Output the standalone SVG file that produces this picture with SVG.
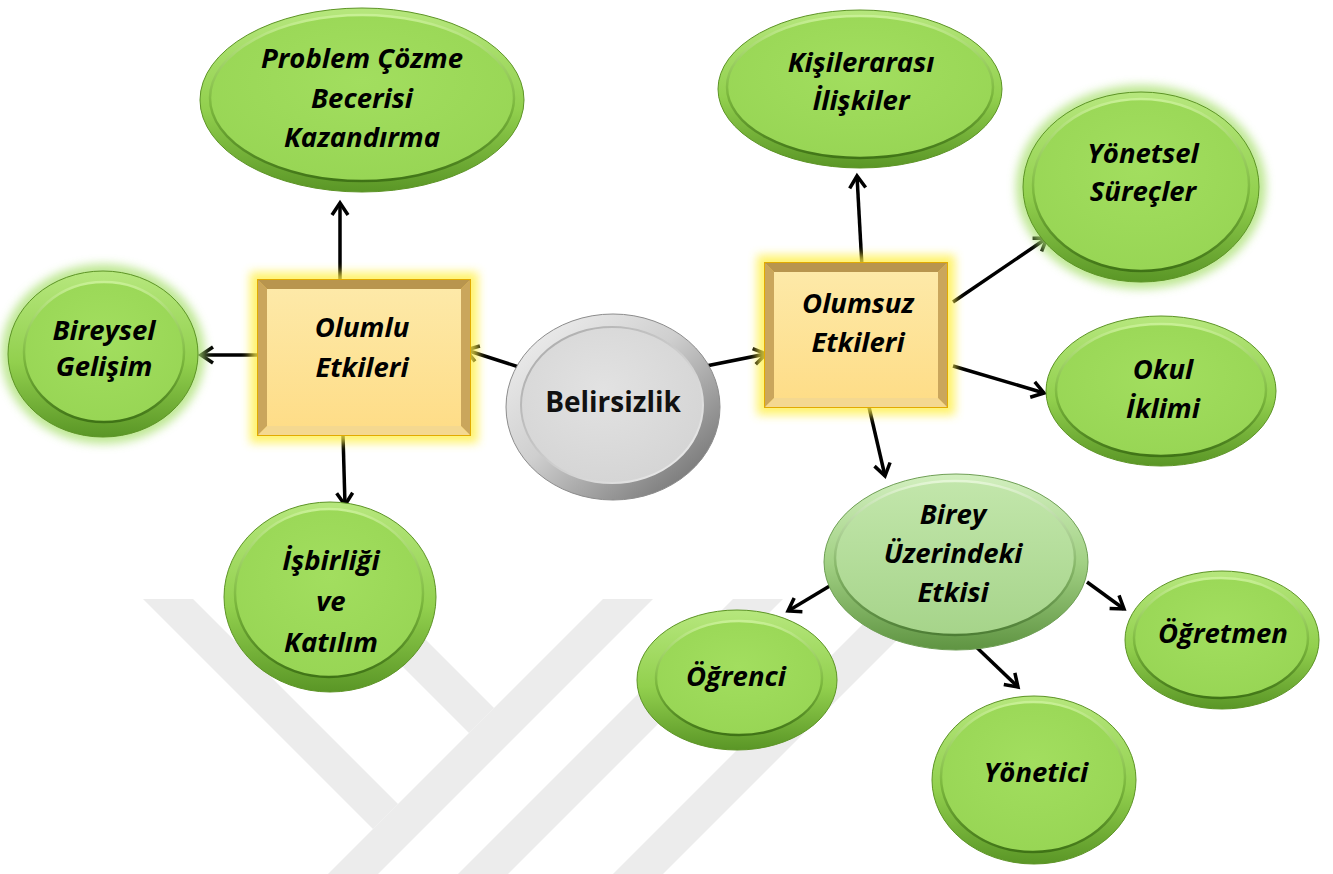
<svg xmlns="http://www.w3.org/2000/svg" width="1333" height="874" viewBox="0 0 1333 874">
<defs>
<style>
.lbl{font-family:"Open Sans","Noto Sans","Liberation Sans",sans-serif;font-weight:700;font-style:italic;font-size:27.5px;fill:#000;text-anchor:middle}
.title{font-family:"Open Sans","Noto Sans","Liberation Sans",sans-serif;font-weight:700;font-size:28px;fill:#111;text-anchor:middle}
.wm{fill:#ececec}
.link{fill:none;stroke:#000;stroke-width:3.5;marker-end:url(#arrow)}
.rim{fill:url(#greenRim);stroke:#5d9426;stroke-width:1}
.face{fill:url(#greenFace);stroke:url(#greenEdge);stroke-width:2.5}
.halo{fill:#a9e070;opacity:0.75;filter:url(#soft)}
.pale-rim{fill:url(#paleRim);stroke:#6f9f55;stroke-width:1}
.pale-face{fill:url(#paleFace);stroke:url(#paleEdge);stroke-width:2.5}
.gold-glow{fill:#fff04a;opacity:0.8;filter:url(#soft)}
.gold-frame{fill:#f0c64a;stroke:#e2aa00;stroke-width:2}
.bev-dark{fill:#b8954e}
.bev-mid{fill:#caa65c}
.bev-light{fill:#f4d890}
.gold-face{fill:url(#goldFace)}
.grey-rim{fill:url(#greyRim);stroke:#8c8c8c;stroke-width:1}
.grey-face{fill:url(#greyFace);stroke:url(#greyEdge);stroke-width:2}
</style>
<filter id="soft" x="-20%" y="-20%" width="140%" height="140%">
<feGaussianBlur stdDeviation="5"/>
</filter>
<linearGradient id="greenRim" x1="0" y1="0" x2="0" y2="1">
<stop offset="0" stop-color="#b6e77d"/>
<stop offset="0.55" stop-color="#92d04e"/>
<stop offset="1" stop-color="#5a9626"/>
</linearGradient>
<radialGradient id="greenFace" cx="0.5" cy="0.4" r="0.65">
<stop offset="0" stop-color="#a2de5f"/>
<stop offset="1" stop-color="#97d554"/>
</radialGradient>
<linearGradient id="greenEdge" x1="0" y1="0" x2="0" y2="1">
<stop offset="0" stop-color="#c8f095"/>
<stop offset="0.55" stop-color="#7cb83e"/>
<stop offset="1" stop-color="#3f7316"/>
</linearGradient>
<linearGradient id="paleRim" x1="0" y1="0" x2="0" y2="1">
<stop offset="0" stop-color="#d2efbf"/>
<stop offset="0.5" stop-color="#a2d184"/>
<stop offset="1" stop-color="#5f9442"/>
</linearGradient>
<linearGradient id="paleFace" x1="0" y1="0" x2="0" y2="1">
<stop offset="0" stop-color="#c2e6ab"/>
<stop offset="1" stop-color="#a6d48a"/>
</linearGradient>
<linearGradient id="paleEdge" x1="0" y1="0" x2="0" y2="1">
<stop offset="0" stop-color="#e4f6d6"/>
<stop offset="0.55" stop-color="#88b86a"/>
<stop offset="1" stop-color="#4d7d35"/>
</linearGradient>
<linearGradient id="goldFace" x1="0" y1="0" x2="0" y2="1">
<stop offset="0" stop-color="#fde9a8"/>
<stop offset="1" stop-color="#fedd88"/>
</linearGradient>
<linearGradient id="greyRim" x1="0" y1="0" x2="1" y2="1">
<stop offset="0" stop-color="#f4f4f4"/>
<stop offset="0.45" stop-color="#cfcfcf"/>
<stop offset="1" stop-color="#626262"/>
</linearGradient>
<radialGradient id="greyFace" cx="0.45" cy="0.4" r="0.65">
<stop offset="0" stop-color="#e2e2e2"/>
<stop offset="1" stop-color="#d4d4d4"/>
</radialGradient>
<linearGradient id="greyEdge" x1="0" y1="0" x2="1" y2="1">
<stop offset="0" stop-color="#a6a6a6"/>
<stop offset="1" stop-color="#f0f0f0"/>
</linearGradient>
<marker id="arrow" viewBox="0 0 20 20" refX="16" refY="10" markerWidth="20" markerHeight="20" markerUnits="userSpaceOnUse" orient="auto">
<path d="M4,2 L16,10 L4,18" fill="none" stroke="#000" stroke-width="3.5"/>
</marker>
</defs>

<rect width="1333" height="874" fill="#ffffff"/>

<!-- faint emblem in the lower half -->
<g id="emblem">
<polygon class="wm" points="143,599 193,599 398,804 373,829"/>
<polygon class="wm" points="335,599 385,599 494,708 469,733"/>
<polygon class="wm" points="603,599 653,599 378,874 328,874"/>
<polygon class="wm" points="733,599 783,599 508,874 458,874"/>
<polygon class="wm" points="888,599 938,599 663,874 613,874"/>
</g>

<!-- connectors -->
<g id="connectors">
<line class="link" x1="340" y1="280" x2="340" y2="203"/>
<line class="link" x1="262" y1="355" x2="201" y2="355"/>
<line class="link" x1="343" y1="435" x2="345" y2="505"/>
<line class="link" x1="522" y1="368" x2="466" y2="350"/>
<line class="link" x1="696" y1="368" x2="766" y2="354"/>
<line class="link" x1="862" y1="267" x2="857" y2="176"/>
<line class="link" x1="953" y1="302" x2="1047" y2="238"/>
<line class="link" x1="953" y1="366" x2="1044" y2="393"/>
<line class="link" x1="869" y1="407" x2="885" y2="476"/>
<line class="link" x1="833" y1="584" x2="788" y2="611"/>
<line class="link" x1="970" y1="641" x2="1018" y2="687"/>
<line class="link" x1="1087" y1="582" x2="1124" y2="609"/>
</g>

<g id="belirsizlik">
<ellipse class="grey-rim" cx="613" cy="407" rx="107" ry="93"/>
<ellipse class="grey-face" cx="612" cy="405" rx="91" ry="78"/>
<text class="title" x="613" y="412">Belirsizlik</text>
</g>

<g id="olumlu">
<rect class="gold-glow" x="250" y="272" width="228" height="171"/>
<rect class="gold-frame" x="258" y="280" width="212" height="155"/>
<polygon class="bev-dark" points="258,280 470,280 461,289 267,289"/>
<polygon class="bev-mid" points="258,280 267,289 267,426 258,435"/>
<polygon class="bev-mid" points="470,280 470,435 461,426 461,289"/>
<polygon class="bev-light" points="258,435 267,426 461,426 470,435"/>
<rect class="gold-face" x="267" y="289" width="194" height="137"/>
<text class="lbl" x="362" y="337">Olumlu</text>
<text class="lbl" x="362" y="377">Etkileri</text>
</g>

<g id="olumsuz">
<rect class="gold-glow" x="757" y="255" width="198" height="160"/>
<rect class="gold-frame" x="765" y="263" width="182" height="144"/>
<polygon class="bev-dark" points="765,263 947,263 938,272 774,272"/>
<polygon class="bev-mid" points="765,263 774,272 774,398 765,407"/>
<polygon class="bev-mid" points="947,263 947,407 938,398 938,272"/>
<polygon class="bev-light" points="765,407 774,398 938,398 947,407"/>
<rect class="gold-face" x="774" y="272" width="164" height="126"/>
<text class="lbl" x="858" y="313">Olumsuz</text>
<text class="lbl" x="858" y="352">Etkileri</text>
</g>

<g id="problem-cozme">
<ellipse class="rim" cx="362" cy="100" rx="162" ry="92"/>
<ellipse class="face" cx="362" cy="98" rx="152" ry="83"/>
<text class="lbl" x="362" y="68">Problem Çözme</text>
<text class="lbl" x="362" y="108">Becerisi</text>
<text class="lbl" x="362" y="147">Kazandırma</text>
</g>

<g id="bireysel-gelisim">
<ellipse class="halo" cx="103" cy="354" rx="102" ry="90"/>
<ellipse class="rim" cx="103" cy="354" rx="95" ry="83"/>
<ellipse class="face" cx="104" cy="352" rx="80" ry="70"/>
<text class="lbl" x="104" y="340">Bireysel</text>
<text class="lbl" x="104" y="376">Gelişim</text>
</g>

<g id="isbirligi">
<ellipse class="rim" cx="330" cy="597" rx="106" ry="95"/>
<ellipse class="face" cx="329" cy="593" rx="94" ry="84"/>
<text class="lbl" x="331" y="570">İşbirliği</text>
<text class="lbl" x="331" y="611">ve</text>
<text class="lbl" x="331" y="652">Katılım</text>
</g>

<g id="kisilerarasi">
<ellipse class="rim" cx="860" cy="89" rx="142" ry="79"/>
<ellipse class="face" cx="860" cy="87" rx="133" ry="71"/>
<text class="lbl" x="861" y="72">Kişilerarası</text>
<text class="lbl" x="861" y="110">İlişkiler</text>
</g>

<g id="yonetsel">
<ellipse class="halo" cx="1141" cy="187" rx="125" ry="102"/>
<ellipse class="rim" cx="1141" cy="187" rx="118" ry="95"/>
<ellipse class="face" cx="1141" cy="185" rx="108" ry="86"/>
<text class="lbl" x="1143" y="163">Yönetsel</text>
<text class="lbl" x="1143" y="201">Süreçler</text>
</g>

<g id="okul-iklimi">
<ellipse class="rim" cx="1161" cy="391" rx="115" ry="75"/>
<ellipse class="face" cx="1161" cy="390" rx="105" ry="66"/>
<text class="lbl" x="1163" y="379">Okul</text>
<text class="lbl" x="1163" y="418">İklimi</text>
</g>

<g id="birey">
<ellipse class="pale-rim" cx="956" cy="562" rx="132" ry="88"/>
<ellipse class="pale-face" cx="955" cy="558" rx="120" ry="77"/>
<text class="lbl" x="953" y="524">Birey</text>
<text class="lbl" x="953" y="563">Üzerindeki</text>
<text class="lbl" x="953" y="602">Etkisi</text>
</g>

<g id="ogrenci">
<ellipse class="rim" cx="737" cy="680" rx="100" ry="70"/>
<ellipse class="face" cx="739" cy="678" rx="83" ry="57"/>
<text class="lbl" x="736" y="686">Öğrenci</text>
</g>

<g id="yonetici">
<ellipse class="rim" cx="1034" cy="780" rx="102" ry="84"/>
<ellipse class="face" cx="1033" cy="777" rx="92" ry="75"/>
<text class="lbl" x="1036" y="782">Yönetici</text>
</g>

<g id="ogretmen">
<ellipse class="rim" cx="1222" cy="640" rx="97" ry="69"/>
<ellipse class="face" cx="1221" cy="638" rx="87" ry="60"/>
<text class="lbl" x="1223" y="643">Öğretmen</text>
</g>
</svg>
